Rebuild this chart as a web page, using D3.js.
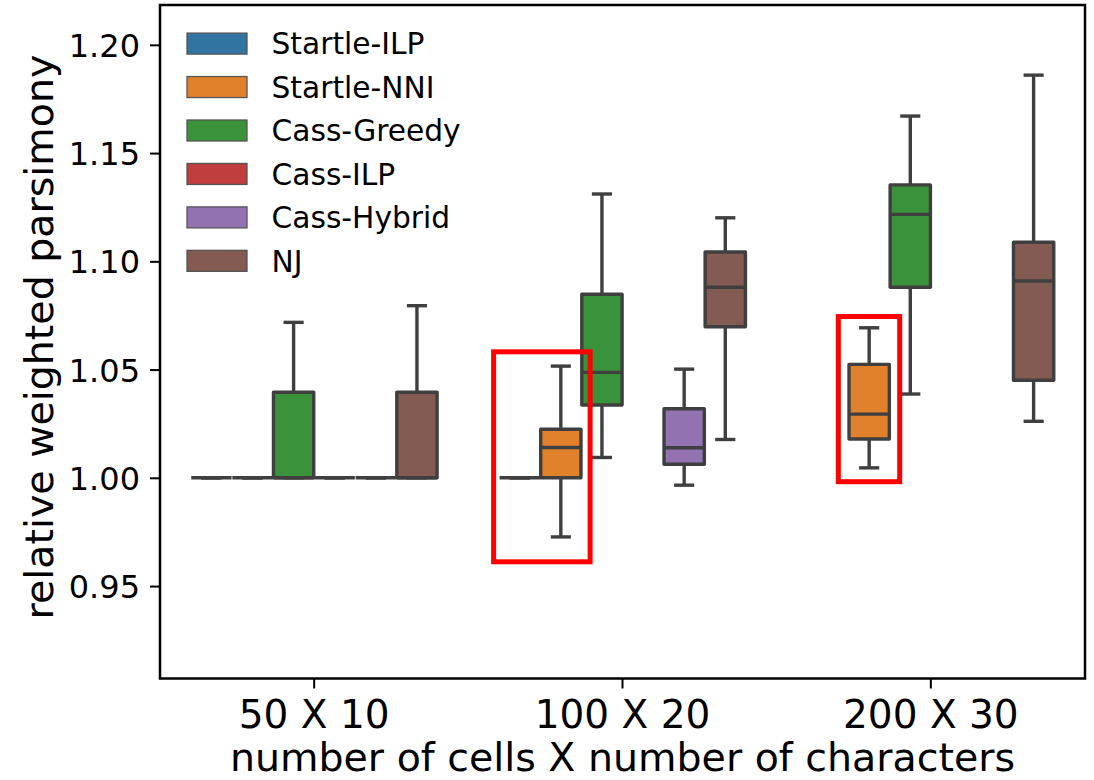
<!DOCTYPE html>
<html>
<head>
<meta charset="utf-8">
<script src="https://cdn.jsdelivr.net/npm/d3@7"></script>
<style>
  html, body { margin: 0; padding: 0; background: #fff; }
  svg { display: block; }
  text { font-family: "DejaVu Sans", sans-serif; fill: #000; }
</style>
</head>
<body>
<svg id="chart" width="1094" height="780"></svg>
<script>
// ---------- data ----------
const categories = ["50 X 10", "100 X 20", "200 X 30"];
const methods = ["Startle-ILP", "Startle-NNI", "Cass-Greedy", "Cass-ILP", "Cass-Hybrid", "NJ"];
const colors = ["#3274a1", "#e1812c", "#3a923a", "#c03d3e", "#9372b2", "#845b53"];
// per category: [whisker low, q1, median, q3, whisker high] (null = no data)
const startleILP  = [[1.0, 1.0, 1.0, 1.0, 1.0], [1.0, 1.0, 1.0, 1.0, 1.0], null];
const startleNNI  = [[1.0, 1.0, 1.0, 1.0, 1.0], [0.9727, 1.0, 1.0140, 1.0224, 1.0516], [1.0046, 1.0179, 1.0294, 1.0524, 1.0693]];
const cassGreedy  = [[1.0, 1.0, 1.0, 1.0395, 1.0718], [1.0094, 1.0336, 1.0487, 1.0848, 1.1311], [1.0387, 1.0880, 1.1217, 1.1353, 1.1671]];
const cassILP     = [[1.0, 1.0, 1.0, 1.0, 1.0], null, null];
const cassHybrid  = [[1.0, 1.0, 1.0, 1.0, 1.0], [0.9966, 1.0063, 1.0139, 1.0319, 1.0502], null];
const nj          = [[1.0, 1.0, 1.0, 1.0395, 1.0795], [1.0177, 1.0698, 1.0880, 1.1043, 1.1201], [1.0261, 1.0451, 1.0909, 1.1088, 1.1860]];
const seriesStats = [startleILP, startleNNI, cassGreedy, cassILP, cassHybrid, nj];
const yTicks = [0.95, 1.00, 1.05, 1.10, 1.15, 1.20];
const yDomain = [0.9073, 1.2184];
// highlight rectangles: [x0, x1] in category units, [y0, y1] in data units
const highlightX = [[0.582, 0.895], [1.700, 1.899]];
const highlightY = [[0.9612, 1.0582], [0.9982, 1.0745]];

// ---------- layout ----------
const svg = d3.select("#chart");
const L = 160, R = 1085, T = 5, B = 678.5;
const lineGray = "#3f3f3f";
const lw = 3.4;

const x = d3.scaleBand().domain(categories).range([L, R]).padding(0);
const bw = x.bandwidth();
const xHue = d3.scaleBand().domain(methods).range([0.1 * bw, 0.9 * bw]).padding(0);
const boxW = xHue.bandwidth() * 0.98;
const xLin = d3.scaleLinear().domain([-0.5, categories.length - 0.5]).range([L, R]);
const y = d3.scaleLinear().domain(yDomain).range([B, T]);

// ---------- boxes ----------
const g = svg.append("g");
methods.forEach((m, mi) => {
  seriesStats[mi].forEach((s, ci) => {
    if (!s) return;
    const [lo, q1, med, q3, hi] = s;
    const cx = x(categories[ci]) + xHue(m) + xHue.bandwidth() / 2;
    const grp = g.append("g");
    // whiskers
    grp.append("line").attr("x1", cx).attr("x2", cx).attr("y1", y(q3)).attr("y2", y(hi))
      .attr("stroke", lineGray).attr("stroke-width", lw);
    grp.append("line").attr("x1", cx).attr("x2", cx).attr("y1", y(q1)).attr("y2", y(lo))
      .attr("stroke", lineGray).attr("stroke-width", lw);
    // caps
    [lo, hi].forEach(v => {
      grp.append("line").attr("x1", cx - boxW / 4).attr("x2", cx + boxW / 4)
        .attr("y1", y(v)).attr("y2", y(v)).attr("stroke", lineGray).attr("stroke-width", lw);
    });
    // box
    grp.append("rect").attr("x", cx - boxW / 2).attr("width", boxW)
      .attr("y", y(q3)).attr("height", Math.max(0, y(q1) - y(q3)))
      .attr("fill", colors[mi]).attr("stroke", lineGray).attr("stroke-width", lw)
      .attr("stroke-linejoin", "round");
    // median
    grp.append("line").attr("x1", cx - boxW / 2).attr("x2", cx + boxW / 2)
      .attr("y1", y(med)).attr("y2", y(med)).attr("stroke", lineGray).attr("stroke-width", lw);
  });
});

// ---------- highlight rectangles ----------
highlightX.forEach((hx, i) => {
  const hy = highlightY[i];
  svg.append("rect")
    .attr("x", xLin(hx[0])).attr("width", xLin(hx[1]) - xLin(hx[0]))
    .attr("y", y(hy[1])).attr("height", y(hy[0]) - y(hy[1]))
    .attr("fill", "none").attr("stroke", "#ff0000").attr("stroke-width", 5);
});

// ---------- axes ----------
const yAxis = d3.axisLeft(y).tickValues(yTicks).tickFormat(d3.format(".2f")).tickSize(10).tickPadding(10);
const yg = svg.append("g").attr("transform", `translate(${L},0)`).call(yAxis);
yg.select(".domain").remove();
yg.selectAll(".tick line").attr("stroke", "#000").attr("stroke-width", 2);
yg.selectAll(".tick text").attr("font-size", "32px").attr("font-family", "DejaVu Sans").attr("dy", "0.36em").attr("fill", "#000");

const xAxis = d3.axisBottom(x).tickSize(10).tickPadding(8);
const xg = svg.append("g").attr("transform", `translate(0,${B})`).call(xAxis);
xg.select(".domain").remove();
xg.selectAll(".tick line").attr("stroke", "#000").attr("stroke-width", 2);
xg.selectAll(".tick text").attr("font-size", "39px").attr("font-family", "DejaVu Sans")
  .attr("dy", null).attr("y", 49.5).attr("fill", "#000");

// frame
svg.append("rect").attr("x", L).attr("y", T).attr("width", R - L).attr("height", B - T)
  .attr("fill", "none").attr("stroke", "#000").attr("stroke-width", 2.5);

// axis labels
svg.append("text").attr("x", (L + R) / 2).attr("y", 770.5).attr("text-anchor", "middle")
  .attr("font-size", "39.5px").text("number of cells X number of characters");
svg.append("text").attr("transform", `translate(53,337) rotate(-90)`).attr("text-anchor", "middle")
  .attr("font-size", "39.5px").text("relative weighted parsimony");

// ---------- legend ----------
const leg = svg.append("g");
methods.forEach((m, i) => {
  const cy = 43.6 + i * 43.45;
  leg.append("rect").attr("x", 187).attr("y", cy - 10.5).attr("width", 60).attr("height", 21)
    .attr("fill", colors[i]).attr("stroke", "#555").attr("stroke-width", 1.3);
  leg.append("text").attr("x", 271.5).attr("y", cy).attr("dy", "0.36em")
    .attr("font-size", "29.7px").text(m);
});
</script>
</body>
</html>
